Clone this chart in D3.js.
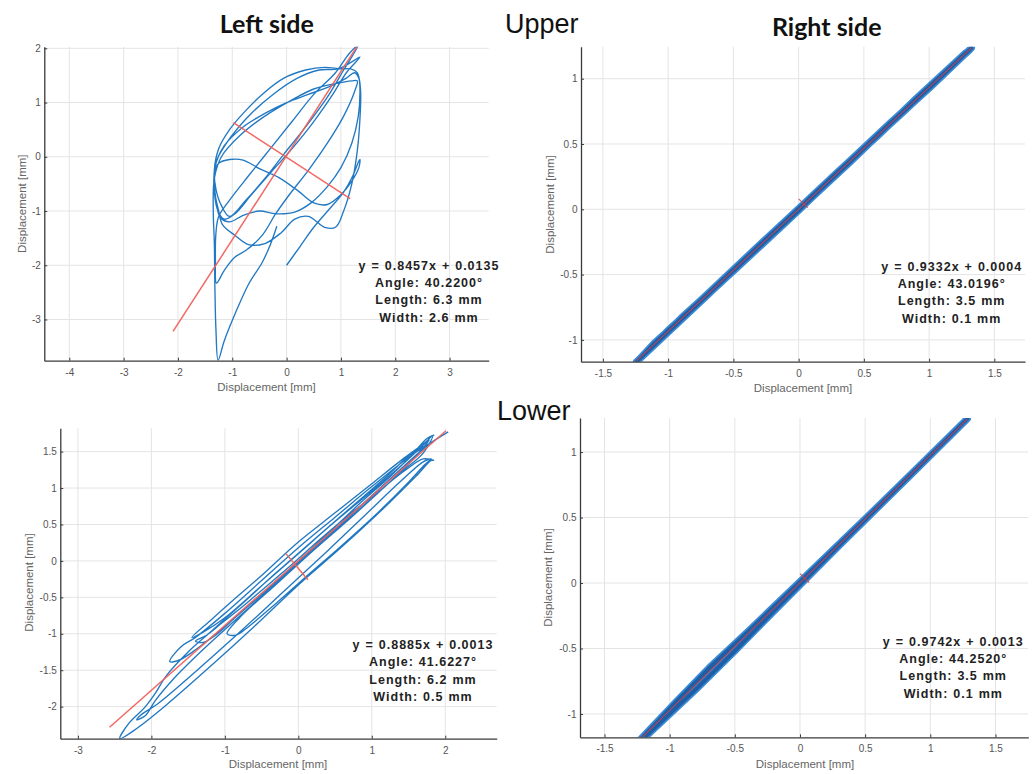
<!DOCTYPE html>
<html>
<head>
<meta charset="utf-8">
<script src="https://cdn.jsdelivr.net/npm/d3@7"></script>
<style>
  body { margin: 0; background: #fff; }
  svg { display: block; }
</style>
</head>
<body>
<svg id="fig" width="1035" height="774"></svg>
<script>
// ---------- data (displacement in mm) ----------

// Upper / left side: trajectory of the marker
const upperLeftTrace = [
  [0.00,-2.00],[0.25,-1.65],[0.50,-1.30],[0.80,-0.95],[1.05,-0.65],[1.22,-0.35],[1.32,-0.10],[1.35,-0.05],
  [1.33,-0.20],[1.20,-0.45],[1.00,-0.70],[0.75,-0.88],[0.50,-0.85],[0.20,-0.62],[-0.15,-0.38],[-0.50,-0.22],
  [-0.80,-0.06],[-1.05,-0.05],[-1.25,-0.12],[-1.33,-0.30],[-1.33,-0.65],[-1.27,-0.98],[-1.15,-1.15],[-0.95,-1.05],
  [-0.65,-0.70],[-0.30,-0.30],[0.10,0.15],[0.50,0.65],[0.85,1.15],[1.10,1.55],[1.35,1.84],[1.20,1.75],
  [0.95,1.62],[0.60,1.60],[0.20,1.45],[-0.25,1.15],[-0.65,0.80],[-1.00,0.40],[-1.28,-0.05],[-1.33,-0.40],
  [-1.30,-0.80],[-1.22,-1.12],[-1.05,-1.20],[-0.80,-1.08],[-0.50,-1.00],[-0.20,-1.05],[0.15,-1.02],[0.45,-0.85],
  [0.75,-0.55],[1.00,-0.20],[1.20,0.25],[1.32,0.75],[1.35,1.20],[1.33,1.45],[1.25,1.55],[1.10,1.45],
  [0.80,1.30],[0.40,1.15],[0.00,1.00],[-0.40,0.80],[-0.80,0.55],[-1.15,0.20],[-1.32,-0.20],[-1.33,-0.60],
  [-1.25,-1.00],[-1.18,-1.25],[-0.95,-1.45],[-0.70,-1.62],[-0.40,-1.60],[-0.10,-1.40],[0.15,-1.15],[0.40,-1.10],
  [0.70,-1.30],[0.90,-1.30],[1.05,-1.00],[1.20,-0.50],[1.30,0.10],[1.35,0.70],[1.36,1.25],[1.30,1.55],
  [1.18,1.62],[1.00,1.62],[0.70,1.65],[0.35,1.60],[-0.05,1.45],[-0.45,1.15],[-0.80,0.80],[-1.05,0.50],
  [-1.25,0.15],[-1.33,-0.25],[-1.30,-0.60],[-1.20,-0.90],[-1.05,-1.10],[-0.75,-0.80],[-0.40,-0.40],[-0.05,0.05],
  [0.35,0.55],[0.75,1.10],[1.05,1.60],[1.32,2.06],[1.15,1.90],[0.90,1.55],[0.50,1.15],[0.10,0.65],
  [-0.30,0.15],[-0.70,-0.35],[-1.05,-0.80],[-1.25,-1.10],[-1.30,-1.40],[-1.31,-1.90],[-1.29,-2.33],[-1.15,-2.10],
  [-0.95,-1.85],[-0.74,-1.72],[-0.45,-1.45],[-0.20,-1.05],[0.05,-0.70],[0.40,-0.25],[0.75,0.25],[1.05,0.75],
  [1.25,1.20],[1.30,1.40],[1.20,1.40],[0.90,1.35],[0.50,1.25],[0.10,1.05],[-0.40,0.75],[-0.85,0.40],
  [-1.20,0.00],[-1.33,-0.40],[-1.35,-1.00],[-1.33,-1.60],[-1.32,-2.40],[-1.30,-3.20],[-1.26,-3.75],[-1.15,-3.40],
  [-0.95,-2.90],[-0.70,-2.35],[-0.45,-1.95],[-0.30,-1.62],[-0.18,-1.28]
];
const upperLeftMajor = [[-2.09,-3.22],[1.32,2.07]];
const upperLeftMinor = [[-0.98,0.63],[1.17,-0.77]];
const upperLeftStats = ["y = 0.8457x + 0.0135", "Angle: 40.2200\u00b0", "Length: 6.3 mm", "Width: 2.6 mm"];

// Upper / right side
const upperRightTrace = [
  [-1.245,-1.170],[-0.80,-0.742],[-0.30,-0.272],[0.20,0.192],[0.70,0.660],[1.10,1.022],[1.325,1.236],
  [1.00,0.925],[0.50,0.472],[0.00,-0.010],[-0.50,-0.474],[-1.00,-0.925],[-1.22,-1.148],
  [-0.70,-0.660],[-0.20,-0.182],[0.30,0.288],[0.80,0.742],[1.28,1.198],
  [0.90,0.848],[0.40,0.366],[-0.10,-0.098],[-0.60,-0.566],[-1.10,-1.018],[-1.235,-1.162],
  [-0.90,-0.832],[-0.40,-0.378],[0.10,0.100],[0.60,0.556],[1.05,0.986],[1.31,1.218]
];
const upperRightMajor = [[-1.242,-1.159],[1.326,1.238]];
const upperRightMinor = [[0.000,0.080],[0.070,0.012]];
const upperRightStats = ["y = 0.9332x + 0.0004", "Angle: 43.0196\u00b0", "Length: 3.5 mm", "Width: 0.1 mm"];

// Lower / left side
const lowerLeftTrace = [
  [2.04,1.77],[1.80,1.62],[1.50,1.42],[1.00,1.02],[0.50,0.60],[0.00,0.18],[-0.50,-0.27],[-1.00,-0.72],
  [-1.40,-1.05],[-1.60,-1.18],[-1.75,-1.38],[-1.62,-1.36],[-1.40,-1.22],[-1.00,-0.90],[-0.50,-0.46],[0.00,-0.02],
  [0.50,0.42],[1.00,0.86],[1.40,1.22],[1.70,1.48],[1.83,1.72],[1.72,1.62],[1.40,1.38],[1.00,1.06],
  [0.50,0.66],[0.00,0.26],[-0.50,-0.20],[-0.90,-0.55],[-1.20,-0.82],[-1.45,-1.05],[-1.30,-0.98],[-1.00,-0.78],
  [-0.50,-0.34],[0.00,0.10],[0.50,0.54],[1.00,0.96],[1.50,1.40],[1.78,1.66],[1.62,1.46],[1.20,1.04],
  [0.70,0.58],[0.20,0.14],[-0.30,-0.32],[-0.80,-0.78],[-0.97,-1.00],[-0.85,-1.02],[-0.70,-0.92],[-0.30,-0.58],
  [0.10,-0.22],[0.60,0.22],[1.10,0.68],[1.50,1.08],[1.72,1.32],[1.81,1.40],[1.70,1.36],[1.40,1.10],
  [0.90,0.62],[0.40,0.14],[-0.20,-0.42],[-0.80,-0.98],[-1.40,-1.52],[-1.90,-1.95],[-2.15,-2.12],[-2.20,-2.18],
  [-2.08,-2.12],[-1.95,-1.92],[-1.70,-1.62],[-1.30,-1.22],[-0.80,-0.76],[-0.30,-0.30],[0.20,0.16],[0.70,0.62],
  [1.20,1.08],[1.60,1.45],[1.75,1.58],[1.60,1.52],[1.20,1.16],[0.70,0.72],[0.20,0.28],[-0.30,-0.16],
  [-0.80,-0.62],[-1.20,-0.98],[-1.50,-1.25],[-1.80,-1.58],[-1.95,-1.82],[-2.10,-2.02],[-2.30,-2.22],[-2.43,-2.44],
  [-2.20,-2.30],[-1.80,-1.98],[-1.20,-1.45],[-0.60,-0.90],[0.00,-0.33],[0.60,0.20],[1.20,0.76],[1.60,1.16],
  [1.81,1.38],[1.84,1.38],[1.70,1.40],[1.45,1.24],[1.10,0.96],[0.70,0.64],[0.30,0.30],[-0.10,-0.06],
  [-0.45,-0.36],[-0.75,-0.62],[-1.05,-0.86],[-1.25,-1.02],[-1.40,-1.10],[-1.30,-1.12],[-1.10,-1.00],[-0.80,-0.72],
  [-0.40,-0.38],[0.05,0.04],[0.45,0.42],[0.85,0.80],[1.25,1.16],[1.55,1.46],[1.75,1.68],[1.85,1.73]
];
const lowerLeftMajor = [[-2.57,-2.282],[2.01,1.787]];
const lowerLeftMinor = [[-0.17,0.10],[0.13,-0.26]];
const lowerLeftStats = ["y = 0.8885x + 0.0013", "Angle: 41.6227\u00b0", "Length: 6.2 mm", "Width: 0.5 mm"];

// Lower / right side
const lowerRightTrace = [
  [-1.225,-1.195],[-0.95,-0.905],[-0.70,-0.650],[-0.40,-0.370],[0.00,0.012],[0.50,0.490],[1.00,0.976],[1.285,1.255],
  [0.90,0.874],[0.40,0.386],[0.00,-0.008],[-0.35,-0.365],[-0.65,-0.665],[-0.90,-0.905],[-1.18,-1.170],
  [-0.85,-0.810],[-0.55,-0.515],[-0.25,-0.228],[0.20,0.200],[0.70,0.684],[1.20,1.170],
  [0.80,0.776],[0.30,0.284],[-0.20,-0.215],[-0.50,-0.520],[-0.80,-0.815],[-1.10,-1.095],[-1.205,-1.185],
  [-0.75,-0.706],[-0.45,-0.418],[-0.10,-0.086],[0.40,0.392],[0.95,0.928],[1.27,1.240]
];
const lowerRightMajor = [[-1.22,-1.187],[1.284,1.252]];
const lowerRightMinor = [[0.000,0.072],[0.070,0.004]];
const lowerRightStats = ["y = 0.9742x + 0.0013", "Angle: 44.2520\u00b0", "Length: 3.5 mm", "Width: 0.1 mm"];

// tick values
const ticksX_UL = [-4,-3,-2,-1,0,1,2,3];
const ticksY_UL = [-3,-2,-1,0,1,2];
const ticksHalf = [-1.5,-1,-0.5,0,0.5,1,1.5];
const ticksHalfY = [-1,-0.5,0,0.5,1];
const ticksX_LL = [-3,-2,-1,0,1,2];
const ticksY_LL = [-2,-1.5,-1,-0.5,0,0.5,1,1.5];

const axisLabel = "Displacement [mm]";

// ---------- drawing ----------
const svg = d3.select("#fig");
const FONT = "'Liberation Sans', Arial, Helvetica, sans-serif";
const BLUE = "#2279c3";
const RED = "#f0605c";

const panels = [
  { id:"ul", trace: upperLeftTrace, major: upperLeftMajor, minor: upperLeftMinor, stats: upperLeftStats,
    xTicks: ticksX_UL, yTicks: ticksY_UL, xDomain:[-4.46,3.72], yDomain:[-3.76,2.03],
    box:{left:44.3,right:488.7,top:46.7,bottom:360.7}, band:false,
    xl:[266.5,386.7], yl:[21.7,203.7], anno:[429,265.7] },
  { id:"ur", trace: upperRightTrace, major: upperRightMajor, minor: upperRightMinor, stats: upperRightStats,
    xTicks: ticksHalf, yTicks: ticksHalfY, xDomain:[-1.668,1.735], yDomain:[-1.167,1.245],
    box:{left:581,right:1025,top:46.7,bottom:361.7}, band:true,
    xl:[803,388.3], yl:[550,204.5], anno:[951.7,266.7] },
  { id:"ll", trace: lowerLeftTrace, major: lowerLeftMajor, minor: lowerLeftMinor, stats: lowerLeftStats,
    xTicks: ticksX_LL, yTicks: ticksY_LL, xDomain:[-3.24,2.70], yDomain:[-2.44,1.82],
    box:{left:60.3,right:496.7,top:428.3,bottom:738.7}, band:false,
    xl:[278,764.3], yl:[29.3,582.5], anno:[423,645] },
  { id:"lr", trace: lowerRightTrace, major: lowerRightMajor, minor: lowerRightMinor, stats: lowerRightStats,
    xTicks: ticksHalf, yTicks: ticksHalfY, xDomain:[-1.688,1.752], yDomain:[-1.178,1.26],
    box:{left:580,right:1028.3,top:418,bottom:737.3}, band:true,
    xl:[805,764.3], yl:[548,577.5], anno:[953.3,641.7] }
];

const defs = svg.append("defs");

panels.forEach(p => {
  const b = p.box;
  const x = d3.scaleLinear().domain(p.xDomain).range([b.left, b.right]);
  const y = d3.scaleLinear().domain(p.yDomain).range([b.bottom, b.top]);
  const g = svg.append("g");

  defs.append("clipPath").attr("id", "clip-" + p.id)
    .append("rect").attr("x", b.left).attr("y", b.top)
    .attr("width", b.right - b.left).attr("height", b.bottom - b.top);

  // grid
  g.append("g").selectAll("line").data(p.xTicks).join("line")
    .attr("x1", d => x(d)).attr("x2", d => x(d))
    .attr("y1", b.top).attr("y2", b.bottom)
    .attr("stroke", "#e4e4e4").attr("stroke-width", 1);
  g.append("g").selectAll("line").data(p.yTicks).join("line")
    .attr("x1", b.left).attr("x2", b.right)
    .attr("y1", d => y(d)).attr("y2", d => y(d))
    .attr("stroke", "#e4e4e4").attr("stroke-width", 1);

  const plot = g.append("g").attr("clip-path", `url(#clip-${p.id})`);
  const line = d3.line().x(d => x(d[0])).y(d => y(d[1]));

  if (p.band) {
    const straight = line.curve(d3.curveLinear);
    plot.append("path").attr("d", straight(p.trace))
      .attr("fill", "none").attr("stroke", "#3d8bd4").attr("stroke-width", 7)
      .attr("stroke-linejoin", "round").attr("stroke-linecap", "round");
    plot.append("path").attr("d", straight(p.trace))
      .attr("fill", "none").attr("stroke", "#1d5fa6").attr("stroke-width", 3.6)
      .attr("stroke-linejoin", "round").attr("stroke-linecap", "round");
  } else {
    plot.append("path").attr("d", line.curve(d3.curveCatmullRom.alpha(0.5))(p.trace))
      .attr("fill", "none").attr("stroke", BLUE).attr("stroke-width", 1.35)
      .attr("stroke-linejoin", "round");
  }

  const redLine = d3.line().x(d => x(d[0])).y(d => y(d[1]));
  [p.major, p.minor].forEach(seg => {
    plot.append("path").attr("d", redLine(seg))
      .attr("fill", "none")
      .attr("stroke", p.band ? "#d0404e" : RED)
      .attr("stroke-width", p.band ? 1.1 : 1.5)
      .attr("stroke-opacity", p.band ? 0.85 : 0.95);
  });

  // axes (ticks pointing inward)
  const fmt = d => String(d);
  const ax = g.append("g").attr("transform", `translate(0,${b.bottom})`)
    .call(d3.axisBottom(x).tickValues(p.xTicks).tickFormat(fmt).tickSize(-3).tickSizeOuter(0).tickPadding(8));
  const ay = g.append("g").attr("transform", `translate(${b.left},0)`)
    .call(d3.axisLeft(y).tickValues(p.yTicks).tickFormat(fmt).tickSize(-3).tickSizeOuter(0).tickPadding(3.5));
  [ax, ay].forEach(a => {
    a.select(".domain").attr("stroke", "#3a3a3a").attr("stroke-width", 1.3);
    a.selectAll(".tick line").attr("stroke", "#3a3a3a");
    a.selectAll(".tick text").attr("fill", "#555").attr("font-size", 10).attr("font-family", FONT);
  });

  // axis titles
  g.append("text").attr("x", p.xl[0]).attr("y", p.xl[1])
    .attr("text-anchor", "middle").attr("dominant-baseline", "central")
    .attr("font-family", FONT).attr("font-size", 11.5).attr("fill", "#666")
    .text(axisLabel);
  g.append("text").attr("transform", `translate(${p.yl[0]},${p.yl[1]}) rotate(-90)`)
    .attr("text-anchor", "middle").attr("dominant-baseline", "central")
    .attr("font-family", FONT).attr("font-size", 11.5).attr("fill", "#666")
    .text(axisLabel);

  // fit summary
  g.append("g").selectAll("text").data(p.stats).join("text")
    .attr("x", p.anno[0]).attr("y", (d, i) => p.anno[1] + i * 17.3)
    .attr("text-anchor", "middle").attr("dominant-baseline", "central")
    .attr("font-family", FONT).attr("font-size", 12.5).attr("font-weight", "bold")
    .attr("letter-spacing", 1.0).attr("word-spacing", 0.5)
    .attr("fill", "#222")
    .text(d => d);
});

// headings
const titles = [
  { t: "Left side", x: 266.7, y: 33.3, bold: true, anchor: "middle" },
  { t: "Right side", x: 826.7, y: 36, bold: true, anchor: "middle" },
  { t: "Upper", x: 505, y: 33.3, bold: false, anchor: "start" },
  { t: "Lower", x: 497, y: 420, bold: false, anchor: "start" }
];
svg.append("g").selectAll("text").data(titles).join("text")
  .attr("x", d => d.x).attr("y", d => d.y)
  .attr("text-anchor", d => d.anchor)
  .attr("font-family", d => d.bold ? "Lato, 'Open Sans', sans-serif" : FONT)
  .attr("font-weight", d => d.bold ? "bold" : "normal")
  .attr("font-size", d => d.bold ? 25 : 27)
  .attr("fill", "#111")
  .text(d => d.t);
</script>
</body>
</html>
